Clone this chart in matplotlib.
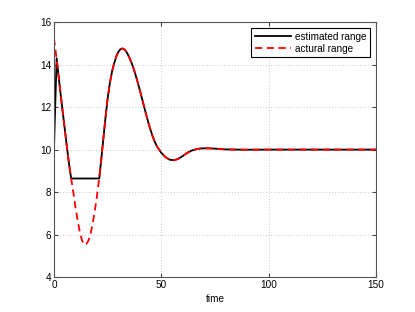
import matplotlib
matplotlib.use("Agg")
import matplotlib.pyplot as plt

plt.rcParams["font.family"] = ["Liberation Sans", "DejaVu Sans"]
plt.rcParams["font.size"] = 7.2

act_time = [0, 1, 2, 3, 4, 5, 6, 7, 8, 9, 10, 11, 12, 13, 14, 15, 16, 17, 18, 19,
            20, 21, 22, 23, 24, 25, 26, 27, 28, 29, 30, 31, 32, 33, 34, 35, 36, 37,
            38, 39, 40, 41, 42, 43, 44, 45, 46, 47, 48, 50, 52, 54, 56, 58, 60, 62,
            64, 66, 68, 70, 72, 74, 76, 78, 80, 85, 90, 100, 110, 120, 130, 140, 150]
act_range = [15.25, 14.45, 13.6, 12.7, 11.85, 11.0, 10.15, 9.35, 8.65, 8.0, 7.3, 6.7,
             6.15, 5.75, 5.52, 5.55, 5.7, 6.0, 6.5, 7.1, 7.8, 8.6, 9.5, 10.5, 11.5,
             12.4, 13.1, 13.65, 14.05, 14.38, 14.6, 14.73, 14.76, 14.7, 14.56, 14.36,
             14.12, 13.85, 13.52, 13.17, 12.8, 12.41, 12.02, 11.63, 11.26, 10.92,
             10.62, 10.36, 10.15, 9.85, 9.64, 9.52, 9.5, 9.57, 9.7, 9.84, 9.95, 10.01,
             10.05, 10.06, 10.06, 10.05, 10.04, 10.02, 10.01, 10.0, 9.995, 10.0, 10.0,
             10.0, 10.0, 10.0, 10.0]

# estimated range (black solid): start and hold segment, then same as actual
est_head_time = [0, 1.25, 2, 3, 4, 5, 6, 7, 8, 8.2, 21.1]
est_head_range = [10.0, 14.3, 13.6, 12.7, 11.85, 11.0, 10.15, 9.35, 8.65, 8.64, 8.64]
est_time = est_head_time + [t for t in act_time if t >= 22]
est_range = est_head_range + [v for t, v in zip(act_time, act_range) if t >= 22]

fig = plt.figure(figsize=(4.15, 3.12), dpi=100)
ax = fig.add_axes([0.13, 0.112, 0.776, 0.817])

ax.plot(est_time, est_range, color="black", lw=1.3, label="estimated range")
ax.plot(act_time, act_range, color="red", lw=1.3, ls=(0, (4, 2.5)), label="actural range")

ax.set_xlim(0, 150)
ax.set_ylim(4, 16)
ax.set_xticks([0, 50, 100, 150])
ax.set_yticks([4, 6, 8, 10, 12, 14, 16])
ax.set_xlabel("time", labelpad=3)
ax.grid(True, ls=(0, (1, 3)), color="#999999", lw=0.5)
ax.tick_params(direction="in", length=3, color="#444444", pad=2,
               top=True, right=True)
for s in ax.spines.values():
    s.set_color("#555555")
    s.set_linewidth(0.8)

leg = ax.legend(loc="upper right", fancybox=False, framealpha=1, edgecolor="black",
                handlelength=3.6, borderaxespad=0.6, borderpad=0.35, labelspacing=0.2,
                handletextpad=0.4)
leg.get_frame().set_linewidth(0.8)

fig.savefig("out.png", dpi=100)
